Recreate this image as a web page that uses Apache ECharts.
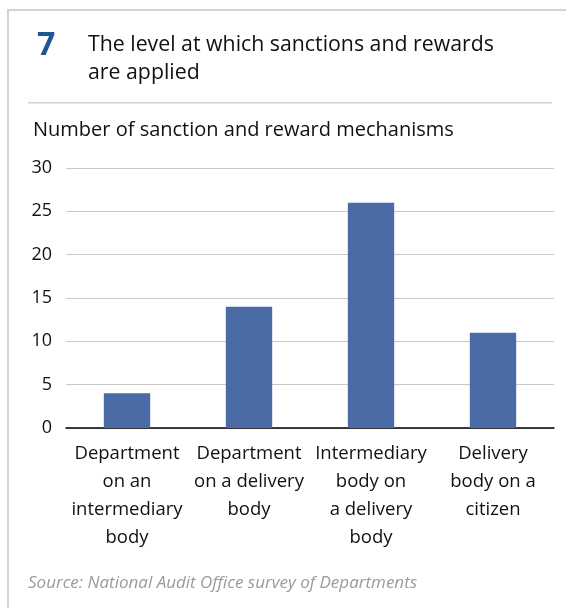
<!DOCTYPE html>
<html>
<head>
<meta charset="utf-8">
<script src="https://cdn.jsdelivr.net/npm/echarts@6/dist/echarts.min.js"></script>
<style>
  html, body { margin: 0; padding: 0; background: #fff; }
  #chart { width: 566px; height: 608px; }
</style>
</head>
<body>
<div id="chart"></div>
<script>
const categories = [
  'Department\non an\nintermediary\nbody',
  'Department\non a delivery\nbody',
  'Intermediary\nbody on\na delivery\nbody',
  'Delivery\nbody on a\ncitizen'
];
const mechanisms = [4, 14, 26, 11];
const yTicks = [0, 5, 10, 15, 20, 25, 30];

const font = 'Open Sans';
const chart = echarts.init(document.getElementById('chart'));

chart.setOption({
  animation: false,
  textStyle: { fontFamily: font },
  grid: { left: 66, right: 12, top: 168, bottom: 180 },
  graphic: [
    // frame lines
    { type: 'rect', shape: { x: 8, y: 9, width: 558, height: 2 }, style: { fill: '#d4d4d4' } },
    { type: 'rect', shape: { x: 7, y: 9, width: 2, height: 599 }, style: { fill: '#d4d4d4' } },
    { type: 'rect', shape: { x: 28, y: 102, width: 524, height: 1.5 }, style: { fill: '#d4d4d4' } },
    {
      type: 'text', left: 37, top: 30,
      style: { text: '7', font: 'bold 32px ' + font, fill: '#1d5796' }
    },
    {
      type: 'text', left: 88, top: 31,
      style: {
        text: 'The level at which sanctions and rewards\nare applied',
        font: '21.3px ' + font, lineHeight: 28, fill: '#111'
      }
    },
    {
      type: 'text', left: 33, top: 120,
      style: { text: 'Number of sanction and reward mechanisms', font: '20px ' + font, fill: '#111' }
    },
    {
      type: 'text', left: 28, top: 575,
      style: { text: 'Source: National Audit Office survey of Departments', font: 'italic 17px ' + font, fill: '#9a9a9a' }
    }
  ],
  xAxis: {
    type: 'category',
    data: categories,
    axisLine: { lineStyle: { color: '#000', width: 1.5 } },
    axisTick: { show: false },
    axisLabel: { color: '#111', fontSize: 18.5, lineHeight: 28, margin: 12, interval: 0 }
  },
  yAxis: {
    type: 'value',
    min: yTicks[0],
    max: yTicks[yTicks.length - 1],
    interval: 5,
    axisLine: { show: false },
    axisTick: { show: false },
    axisLabel: { color: '#111', fontSize: 18, margin: 14 },
    splitLine: { lineStyle: { color: '#c8c8c8', width: 1 } }
  },
  series: [{
    type: 'bar',
    data: mechanisms,
    barWidth: '38%',
    itemStyle: { color: '#4a6ba6' }
  }]
});
</script>
</body>
</html>
